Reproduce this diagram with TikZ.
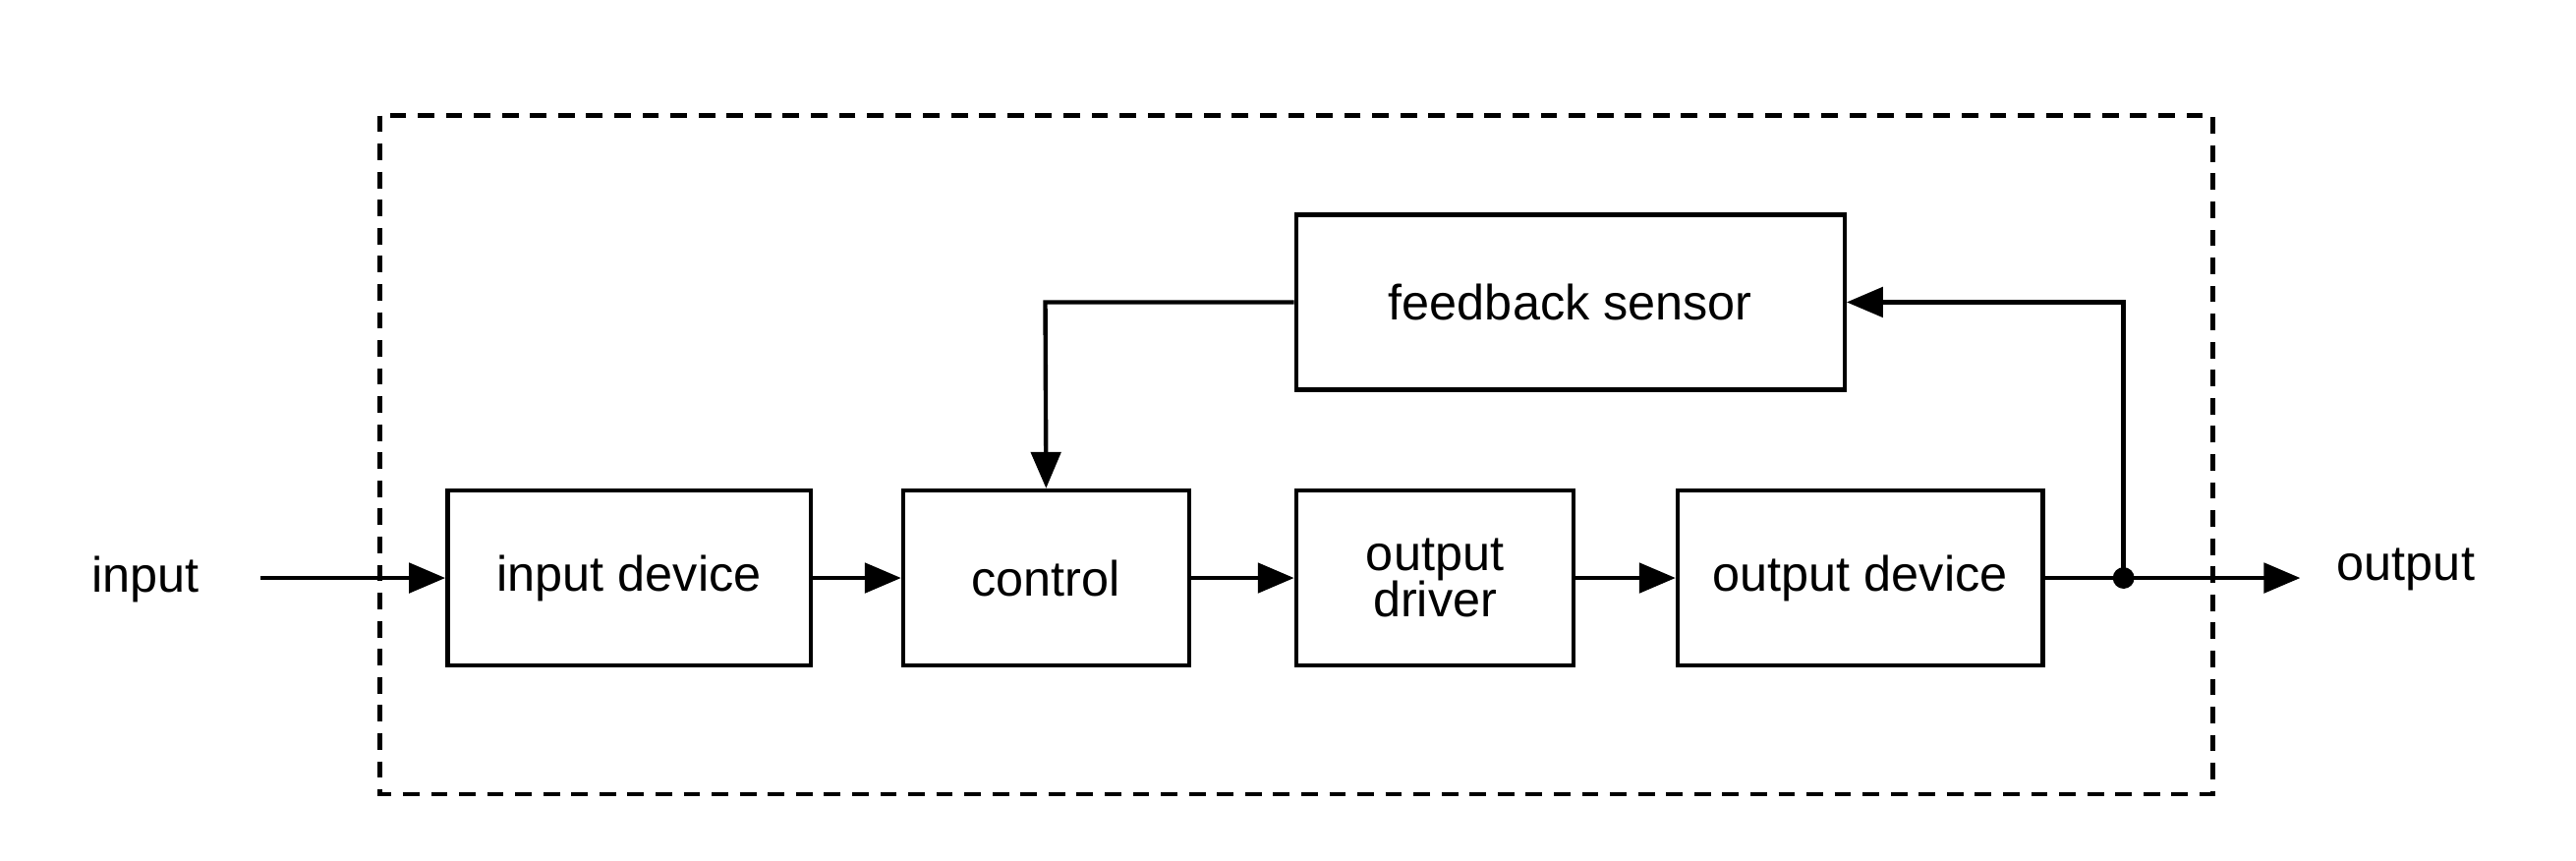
\documentclass[tikz,border=0pt]{standalone}
\usepackage{fontspec}
\setmainfont{Liberation Sans}
\usetikzlibrary{arrows.meta}
\begin{document}
\begin{tikzpicture}[x=1pt,y=-1pt,
  blk/.style={draw,line width=2.6pt,minimum height=106pt,inner sep=0pt,align=center,font=\fontsize{30}{32}\selectfont},
  lbl/.style={font=\fontsize{30}{32}\selectfont},
  con/.style={line width=2.6pt,-{Triangle[length=22pt,width=18pt]}},
  ln/.style={line width=2.6pt}]
\useasboundingbox (0,0) rectangle (1560,521);
\draw[line width=2.6pt,dash pattern=on 10pt off 7pt] (230,70) rectangle (1340,481);
\node[blk,minimum width=332pt] (fs) at (951,183) {feedback sensor};
\node[blk,minimum width=220pt] (id) at (381,350) {input device};
\node[blk,minimum width=173pt] (ct) at (633.5,350) {control};
\node[blk,minimum width=168pt] (od) at (869,350) {output\\[-4pt]driver};
\node[blk,minimum width=221pt] (dv) at (1126.5,350) {output device};
\node[lbl] (in) at (88,351) {input};
\node[lbl] (out) at (1457,345) {output};
\coordinate (ins) at (158,350);
\coordinate (outs) at (1393,350);
\fill (1286,350) circle (6.5pt) coordinate (dot);
\coordinate (up) at (1286,183);
\coordinate (cl) at (633,183);
\draw[con] (ins) -- (id);
\draw[con] (id) -- (ct);
\draw[con] (ct) -- (od);
\draw[con] (od) -- (dv);
\draw[ln] (dv) -- (dot);
\draw[con] (dot) -- (outs);
\draw[con] (dot) -- (up) -- (fs.east);
\draw[con] (fs.west) -- (cl) -- (ct.north);
\end{tikzpicture}
\end{document}
